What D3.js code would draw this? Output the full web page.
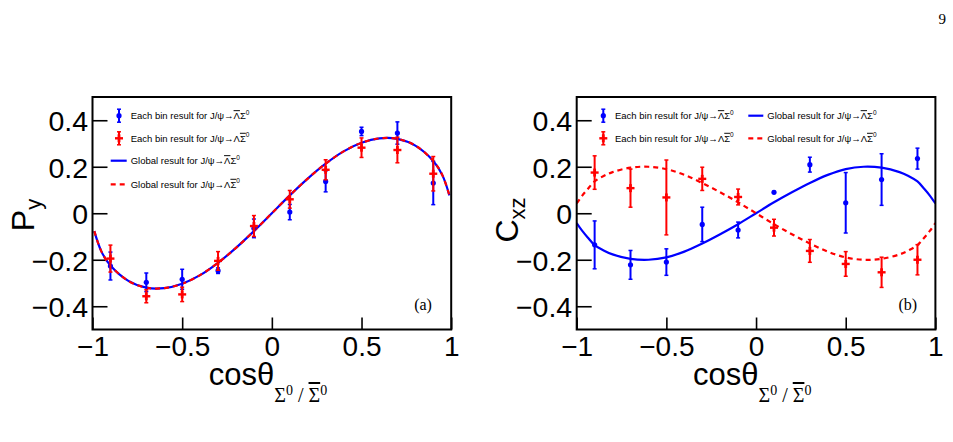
<!DOCTYPE html>
<html><head><meta charset="utf-8">
<script src="https://cdn.jsdelivr.net/npm/d3@7"></script>
<style>body{margin:0;background:#fff} svg{display:block}</style>
</head><body><svg id="c" width="953" height="442"></svg>
<script>
// ---------------- data ----------------
const binCenters = [-0.9,-0.7,-0.5,-0.3,-0.1,0.1,0.3,0.5,0.7,0.9];
// P_y, each-bin results
const pyLbarVal = [-0.227,-0.297,-0.284,-0.247,-0.065,0.005,0.137,0.352,0.345,0.13];
const pyLbarErr = [0.06,0.04,0.043,0.012,0.04,0.033,0.045,0.018,0.048,0.093];
const pySbarVal = [-0.195,-0.357,-0.349,-0.205,-0.055,0.06,0.187,0.282,0.272,0.17];
const pySbarErr = [0.058,0.028,0.031,0.04,0.045,0.038,0.043,0.042,0.055,0.074];
// C_xz, each-bin results
const cxzLbarVal = [-0.136,-0.222,-0.21,-0.048,-0.072,0.09,0.209,0.045,0.145,0.235];
const cxzLbarErr = [0.103,0.062,0.057,0.074,0.034,0.004,0.032,0.13,0.111,0.045];
const cxzSbarVal = [0.175,0.108,0.068,0.148,0.07,-0.062,-0.162,-0.218,-0.254,-0.2];
const cxzSbarErr = [0.072,0.082,0.161,0.05,0.034,0.036,0.049,0.053,0.065,0.065];
// global results
const pyCurveX = [-0.99,-0.95,-0.9,-0.8,-0.7,-0.6,-0.5,-0.4,-0.3,-0.2,-0.1,0,0.1,0.2,0.3,0.4,0.5,0.6,0.7,0.8,0.9,0.95,0.99];
const pyGlobalLbar = [-0.077,-0.165,-0.225,-0.291,-0.32,-0.322,-0.303,-0.266,-0.213,-0.149,-0.077,0,0.077,0.149,0.213,0.266,0.303,0.322,0.32,0.291,0.225,0.165,0.077];
const pyGlobalSbar = [-0.077,-0.165,-0.225,-0.291,-0.32,-0.322,-0.303,-0.266,-0.213,-0.149,-0.077,0,0.077,0.149,0.213,0.266,0.303,0.322,0.32,0.291,0.225,0.165,0.077];
const cxzCurveX = [-1,-0.97,-0.94,-0.9,-0.85,-0.8,-0.7,-0.6,-0.5,-0.4,-0.3,-0.2,-0.1,0,0.1,0.2,0.3,0.4,0.5,0.6,0.7,0.8,0.85,0.9,0.94,0.97,1];
const cxzGlobalLbar = [-0.042,-0.075,-0.103,-0.137,-0.16,-0.177,-0.196,-0.2,-0.19,-0.165,-0.13,-0.09,-0.047,0,0.047,0.09,0.13,0.165,0.19,0.2,0.196,0.177,0.16,0.137,0.103,0.075,0.042];
const cxzGlobalSbar = [0.042,0.075,0.103,0.137,0.16,0.177,0.196,0.2,0.19,0.165,0.13,0.09,0.047,0,-0.047,-0.09,-0.13,-0.165,-0.19,-0.2,-0.196,-0.177,-0.16,-0.137,-0.103,-0.075,-0.042];
// axes
const xMajorTicks = [-1,-0.5,0,0.5,1];
const xTickLabels = ["\u22121","\u22120.5","0","0.5","1"];
const xMinorTicks = [-0.9,-0.8,-0.7,-0.6,-0.4,-0.3,-0.2,-0.1,0.1,0.2,0.3,0.4,0.6,0.7,0.8,0.9];
const yMajorTicks = [-0.4,-0.2,0,0.2,0.4];
const yTickLabels = ["\u22120.4","\u22120.2","0","0.2","0.4"];
const yMinorTicks = [-0.45,-0.35,-0.3,-0.25,-0.15,-0.1,-0.05,0.05,0.1,0.15,0.25,0.3,0.35,0.45];

// ---------------- drawing ----------------
const svg = d3.select('#c');
const BLUE = '#0000ff', RED = '#ff0000';
const SANS = '"Liberation Sans", Arial, Helvetica, sans-serif';
const SERIF = '"Liberation Serif", "Times New Roman", serif';
const yTop = 97, yBot = 329.5;

function legendText(sel, x, y, prefix, barOn) {
  const t = sel.append('text').attr('x', x).attr('y', y)
    .attr('font-family', SANS).attr('font-size', 9.5).attr('fill', '#000');
  t.append('tspan').text(prefix + 'J/\u03c8\u2192');
  t.append('tspan').text('\u039b').style('text-decoration', barOn === 'L' ? 'overline' : 'none');
  t.append('tspan').text('\u03a3').style('text-decoration', barOn === 'S' ? 'overline' : 'none');
  t.append('tspan').text('0').attr('font-size', 6.5).attr('dy', -4.5);
}

function blueMarker(g, cx, cy, halfLen) {
  g.append('line').attr('x1', cx).attr('x2', cx).attr('y1', cy - halfLen).attr('y2', cy + halfLen)
    .attr('stroke', BLUE).attr('stroke-width', 2);
  [cy - halfLen, cy + halfLen].forEach(yy => g.append('line').attr('x1', cx - 2).attr('x2', cx + 2)
    .attr('y1', yy).attr('y2', yy).attr('stroke', BLUE).attr('stroke-width', 1.5));
  g.append('circle').attr('cx', cx).attr('cy', cy).attr('r', 2.6).attr('fill', BLUE);
}
function redMarker(g, cx, cy, halfLen) {
  g.append('line').attr('x1', cx).attr('x2', cx).attr('y1', cy - halfLen).attr('y2', cy + halfLen)
    .attr('stroke', RED).attr('stroke-width', 2);
  [cy - halfLen, cy + halfLen].forEach(yy => g.append('line').attr('x1', cx - 2).attr('x2', cx + 2)
    .attr('y1', yy).attr('y2', yy).attr('stroke', RED).attr('stroke-width', 1.5));
  g.append('line').attr('x1', cx - 4).attr('x2', cx + 4).attr('y1', cy).attr('y2', cy)
    .attr('stroke', RED).attr('stroke-width', 2.4);
  g.append('line').attr('x1', cx).attr('x2', cx).attr('y1', cy - 4).attr('y2', cy + 4)
    .attr('stroke', RED).attr('stroke-width', 2.8);
}

function panel(cfg) {
  const x = d3.scaleLinear().domain([-1, 1]).range([cfg.x0, cfg.x1]);
  const y = d3.scaleLinear().domain([-0.5, 0.5]).range([yBot, yTop]);
  const g = svg.append('g');
  const clipId = 'clip' + cfg.id;
  svg.append('clipPath').attr('id', clipId).append('rect')
    .attr('x', cfg.x0).attr('y', yTop).attr('width', cfg.x1 - cfg.x0).attr('height', yBot - yTop);

  // y axis
  const ya = g.append('g').attr('transform', `translate(${cfg.x0},0)`);
  ya.call(d3.axisLeft(y).tickValues(yMinorTicks).tickSize(-7.5).tickFormat(''));
  ya.call(d3.axisLeft(y).tickValues(yMajorTicks).tickSize(-15).tickPadding(4.5)
    .tickFormat((d, i) => yTickLabels[i]));
  ya.selectAll('.domain').remove();
  ya.selectAll('line').attr('stroke', '#000').attr('stroke-width', 1.6);
  ya.selectAll('text').attr('font-family', SANS).attr('font-size', 28.5).attr('fill', '#000').attr('dy', '0.36em');

  // x axis
  const xa = g.append('g').attr('transform', `translate(0,${yBot})`);
  xa.call(d3.axisBottom(x).tickValues(xMinorTicks).tickSize(-7).tickFormat(''));
  xa.call(d3.axisBottom(x).tickValues(xMajorTicks).tickSize(-12).tickPadding(6)
    .tickFormat((d, i) => xTickLabels[i]));
  xa.selectAll('.domain').remove();
  xa.selectAll('line').attr('stroke', '#000').attr('stroke-width', 1.6);
  xa.selectAll('text').attr('font-family', SANS).attr('font-size', 28).attr('fill', '#000').attr('dy', '0.72em');

  // curves
  const cg = g.append('g').attr('clip-path', `url(#${clipId})`);
  const line = d3.line().x(d => x(d[0])).y(d => y(d[1])).curve(d3.curveCatmullRom);
  cg.append('path').datum(cfg.curveX.map((c, i) => [c, cfg.globalL[i]]))
    .attr('d', line).attr('fill', 'none').attr('stroke', BLUE).attr('stroke-width', 2.2);
  cg.append('path').datum(cfg.curveX.map((c, i) => [c, cfg.globalS[i]]))
    .attr('d', line).attr('fill', 'none').attr('stroke', RED).attr('stroke-width', 2.2)
    .attr('stroke-dasharray', '5,4');

  // points
  const pg = g.append('g');
  binCenters.forEach((c, i) => {
    const cy = y(cfg.lVal[i]);
    blueMarker(pg, x(c), cy, Math.max(0, y(cfg.lVal[i] - cfg.lErr[i]) - cy));
  });
  binCenters.forEach((c, i) => {
    const cy = y(cfg.sVal[i]);
    redMarker(pg, x(c), cy, Math.max(0, y(cfg.sVal[i] - cfg.sErr[i]) - cy));
  });

  // frame
  g.append('rect').attr('x', cfg.x0).attr('y', yTop).attr('width', cfg.x1 - cfg.x0)
    .attr('height', yBot - yTop).attr('fill', 'none').attr('stroke', '#000').attr('stroke-width', 2);

  // panel label
  g.append('text').attr('x', cfg.x1 - 37).attr('y', 310).attr('font-family', SERIF)
    .attr('font-size', 16).text(cfg.tag);

  // x title
  const cxm = (cfg.x0 + cfg.x1) / 2;
  const xt = g.append('text').attr('x', cxm - 63).attr('y', 385)
    .attr('font-family', SANS).attr('font-size', 31).attr('fill', '#000');
  xt.append('tspan').text('cos\u03b8');
  xt.append('tspan').attr('font-family', SERIF).attr('font-size', 20).attr('dy', 17).text('\u03a3');
  xt.append('tspan').attr('font-family', SERIF).attr('font-size', 14).attr('dy', -7).text('0');
  xt.append('tspan').attr('font-family', SERIF).attr('font-size', 20).attr('dy', 7).text(' / ');
  xt.append('tspan').attr('font-family', SERIF).attr('font-size', 20).style('text-decoration', 'overline').text('\u03a3');
  xt.append('tspan').attr('font-family', SERIF).attr('font-size', 14).attr('dy', -7).text('0');

  // y title
  const yt = g.append('text').attr('transform', `translate(${cfg.x0 - 59},${cfg.ytY}) rotate(-90)`)
    .attr('font-family', SANS).attr('font-size', 32).attr('fill', '#000').attr('text-anchor', 'middle');
  yt.append('tspan').text(cfg.yMain);
  yt.append('tspan').attr('font-size', 22).attr('dy', 7).text(cfg.ySub);

  return g;
}

panel({id: 'a', x0: 92.5, x1: 451.2, lVal: pyLbarVal, lErr: pyLbarErr, sVal: pySbarVal, sErr: pySbarErr,
  curveX: pyCurveX, globalL: pyGlobalLbar, globalS: pyGlobalSbar, tag: '(a)', yMain: 'P', ySub: 'y', ytY: 215});
panel({id: 'b', x0: 576.7, x1: 935.4, lVal: cxzLbarVal, lErr: cxzLbarErr, sVal: cxzSbarVal, sErr: cxzSbarErr,
  curveX: cxzCurveX, globalL: cxzGlobalLbar, globalS: cxzGlobalSbar, tag: '(b)', yMain: 'C', ySub: 'xz', ytY: 220});

// legends
const lg = svg.append('g');
blueMarker(lg, 119, 115.7, 6.5);
legendText(lg, 130.7, 119.2, 'Each bin result for ', 'L');
redMarker(lg, 119, 138.3, 6.5);
legendText(lg, 130.7, 141.8, 'Each bin result for ', 'S');
lg.append('line').attr('x1', 110.7).attr('x2', 126.7).attr('y1', 160.7).attr('y2', 160.7).attr('stroke', BLUE).attr('stroke-width', 2.2);
legendText(lg, 130.7, 164.2, 'Global result for ', 'L');
lg.append('line').attr('x1', 110.7).attr('x2', 126.7).attr('y1', 184.3).attr('y2', 184.3).attr('stroke', RED).attr('stroke-width', 2.2).attr('stroke-dasharray', '5,4');
legendText(lg, 130.7, 187.8, 'Global result for ', 'S');

blueMarker(lg, 603.3, 115.7, 6.5);
legendText(lg, 615, 119.2, 'Each bin result for ', 'L');
redMarker(lg, 603.3, 138.3, 6.5);
legendText(lg, 615, 141.8, 'Each bin result for ', 'S');
lg.append('line').attr('x1', 748.3).attr('x2', 763.3).attr('y1', 115.7).attr('y2', 115.7).attr('stroke', BLUE).attr('stroke-width', 2.2);
legendText(lg, 767.3, 119.2, 'Global result for ', 'L');
lg.append('line').attr('x1', 748.3).attr('x2', 763.3).attr('y1', 138.3).attr('y2', 138.3).attr('stroke', RED).attr('stroke-width', 2.2).attr('stroke-dasharray', '5,4');
legendText(lg, 767.3, 141.8, 'Global result for ', 'S');

// page number
svg.append('text').attr('x', 946).attr('y', 24).attr('text-anchor', 'end')
  .attr('font-family', SERIF).attr('font-size', 15).text('9');
</script></body></html>
